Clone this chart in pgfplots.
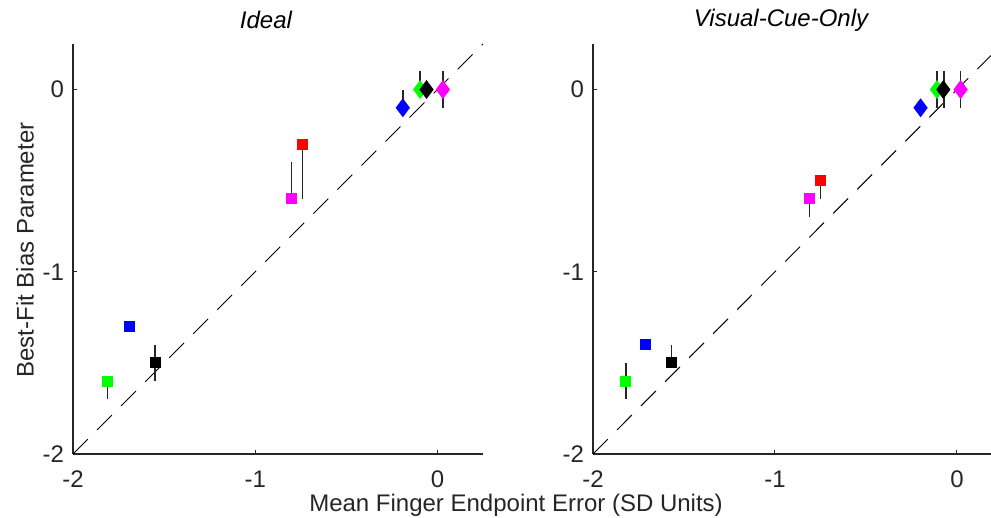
\documentclass[border=0pt]{standalone}
\usepackage{pgfplots}
\pgfplotsset{compat=1.18}
\usepackage{fontspec}
\setmainfont{Liberation Sans}
\definecolor{axgray}{RGB}{38,38,38}
\definecolor{mgreen}{RGB}{0,255,0}
\definecolor{mblue}{RGB}{0,0,255}
\definecolor{mred}{RGB}{255,0,0}
\definecolor{mmag}{RGB}{255,0,255}
\pgfplotsset{
  panel/.style={
    scale only axis,
    height=205pt,
    xmin=-2, ymin=-2, ymax=0.25,
    axis x line*=bottom, axis y line*=left,
    axis line style={axgray, line width=0.6pt, -},
    tick align=inside, major tick length=2pt,
    tick style={axgray, line width=0.5pt},
    xtick={-2,-1,0}, ytick={-2,-1,0},
    xticklabels={-2,-1,0}, yticklabels={-2,-1,0},
    tick label style={font=\fontsize{12}{14}\selectfont, text=axgray},
    xticklabel style={yshift=-5pt},
    yticklabel style={xshift=-1pt},
    clip=false,
  },
  ebar/.style={draw=none, mark=none, forget plot,
    error bars/.cd, y dir=both, y explicit, error mark=none,
    error bar style={draw=black!85, line width=0.75pt, solid}},
  sq/.style={only marks, mark=square*, mark size=2.5pt, mark options={draw=#1, fill=#1}},
  dm/.style={only marks, mark=diamond*, mark size=4.4pt, mark options={draw=#1, fill=#1}},
  diag/.style={black, dash pattern=on 10.5pt off 6.5pt, line width=0.5pt},
}
\begin{document}
\begin{tikzpicture}
\useasboundingbox (0,0) rectangle (495.5pt,259pt);
% Left panel: Ideal
\begin{axis}[panel, at={(36.5pt,32pt)}, anchor=south west, width=205pt, xmax=0.25]
\addplot[diag] coordinates {(-2,-2) (0.25,0.25)};
\addplot[ebar] coordinates {
 (-1.81,-1.6) += (0,0) -= (0,0.1)
 (-1.55,-1.5) += (0,0.1) -= (0,0.1)
 (-0.80,-0.6) += (0,0.2) -= (0,0)
 (-0.74,-0.3) += (0,0) -= (0,0.3)
 (-0.19,-0.1) += (0,0.1) -= (0,0)
 (-0.095,0) += (0,0.1) -= (0,0)
 (0.03,0) += (0,0.1) -= (0,0.1)
};
\addplot[sq=mgreen] coordinates {(-1.81,-1.6)};
\addplot[sq=mblue] coordinates {(-1.69,-1.3)};
\addplot[sq=black] coordinates {(-1.55,-1.5)};
\addplot[sq=mmag] coordinates {(-0.80,-0.6)};
\addplot[sq=mred] coordinates {(-0.74,-0.3)};
\addplot[dm=mblue] coordinates {(-0.19,-0.1)};
\addplot[dm=mgreen] coordinates {(-0.095,0)};
\addplot[dm=black] coordinates {(-0.06,0)};
\addplot[dm=mmag] coordinates {(0.03,0)};
\end{axis}
% Right panel: Visual-Cue-Only
\begin{axis}[panel, at={(296.5pt,32pt)}, anchor=south west, width=199pt, xmax=0.187]
\addplot[diag] coordinates {(-2,-2) (0.187,0.187)};
\addplot[ebar] coordinates {
 (-1.82,-1.6) += (0,0.1) -= (0,0.1)
 (-1.57,-1.5) += (0,0.1) -= (0,0)
 (-0.81,-0.6) += (0,0) -= (0,0.1)
 (-0.75,-0.5) += (0,0) -= (0,0.1)
 (-0.11,0) += (0,0.1) -= (0,0.1)
 (-0.07,0) += (0,0.1) -= (0,0.1)
 (0.02,0) += (0,0.1) -= (0,0.1)
};
\addplot[sq=mgreen] coordinates {(-1.82,-1.6)};
\addplot[sq=mblue] coordinates {(-1.71,-1.4)};
\addplot[sq=black] coordinates {(-1.57,-1.5)};
\addplot[sq=mmag] coordinates {(-0.81,-0.6)};
\addplot[sq=mred] coordinates {(-0.75,-0.5)};
\addplot[dm=mblue] coordinates {(-0.20,-0.1)};
\addplot[dm=mgreen] coordinates {(-0.11,0)};
\addplot[dm=black] coordinates {(-0.075,0)};
\addplot[dm=mmag] coordinates {(0.02,0)};
\end{axis}
\node[font=\fontsize{12}{14}\selectfont\itshape, text=black] at (133pt,249pt) {Ideal};
\node[font=\fontsize{12}{14}\selectfont\itshape, text=black] at (390.5pt,249pt) {Visual-Cue-Only};
\node[font=\fontsize{12}{14}\selectfont, text=axgray] at (258pt,6.5pt) {Mean Finger Endpoint Error (SD Units)};
\node[font=\fontsize{12}{14}\selectfont, text=axgray, rotate=90] at (12.5pt,134pt) {Best-Fit Bias Parameter};
\end{tikzpicture}
\end{document}
